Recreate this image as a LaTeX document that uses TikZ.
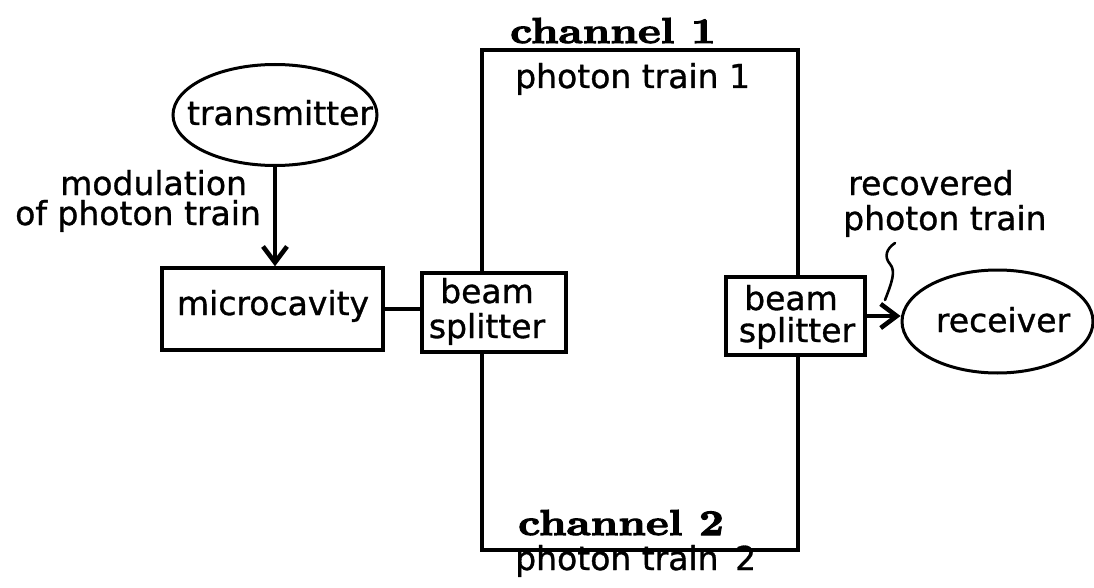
\documentclass[tikz,border=0pt]{standalone}
\usepackage{fontspec}
\newfontfamily\lett[FakeBold=1]{DejaVu Sans}
\newfontfamily\chfont[FakeStretch=1.2,FakeBold=3]{lmroman10-bold.otf}
\usetikzlibrary{shapes.geometric,arrows.meta}
\begin{document}
\begin{tikzpicture}[x=1pt,y=-1pt,
  lbl/.style={font=\lett\fontsize{33}{38}\selectfont, inner sep=0pt},
  chanlbl/.style={font=\chfont\fontsize{36}{40}\selectfont, inner sep=0pt},
  blk/.style={draw, line width=3.4pt, fill=white, inner sep=0pt},
  oval/.style={draw, ellipse, line width=3pt, inner sep=0pt},
  sig/.style={line width=3.6pt, -{Straight Barb[length=16pt,width=24pt,line width=4.6pt]}},
  wire/.style={line width=3.6pt},
  thinwire/.style={line width=2.6pt, line cap=round}]
\useasboundingbox (0,0) rectangle (1094,588);

% the two-channel frame
\node[draw, line width=3.4pt, minimum width=316pt, minimum height=500pt, inner sep=0pt] (chan) at (640,300) {};

% blocks
\node[blk, minimum width=221pt, minimum height=82pt] (mc) at (272.5,309) {};
\node[blk, minimum width=144pt, minimum height=79pt] (bs1) at (494,312.5) {};
\node[blk, minimum width=139pt, minimum height=78pt] (bs2) at (795.5,316) {};
\node[oval, minimum width=204pt, minimum height=101pt] (tx) at (275,115) {};
\node[oval, minimum width=191pt, minimum height=103pt] (rx) at (997.5,321.5) {};

% block texts
\node[lbl, anchor=base] (txt) at (280,125) {transmitter};
\node[lbl, anchor=base] (mct) at (273,315) {microcavity};
\node[lbl, anchor=base] (bs1a) at (487,303) {beam};
\node[lbl, anchor=base] (bs1b) at (487,338) {splitter};
\node[lbl, anchor=base] (bs2a) at (791,310) {beam};
\node[lbl, anchor=base] (bs2b) at (797,342) {splitter};
\node[lbl, anchor=base] (rxt) at (1003,332) {receiver};

% free labels
\node[lbl, anchor=base west] (mod1) at (60,195) {modulation};
\node[lbl, anchor=base west] (mod2) at (15,225) {of photon train};
\node[lbl, anchor=base west] (rec1) at (848,195) {recovered};
\node[lbl, anchor=base west] (rec2) at (843,230) {photon train};
\node[lbl, anchor=base west] (pt1) at (515,88) {photon train 1};
\node[lbl, anchor=base west] (pt2) at (515,570) {photon train\hspace{6pt} 2};
\node[chanlbl, anchor=base] (ch1) at (613,43) {channel 1};
\node[chanlbl, anchor=base] (ch2) at (621,535) {channel 2};

% connectors
\draw[sig] (tx.south) -- (tx.south |- mc.north);
\draw[wire] (mc.east) -- (mc.east -| bs1.west);
\draw[sig] (bs2.east) -- (bs2.east -| rx.west);

% pointer from the label to the recovered beam
\coordinate (w1) at (895,243);
\coordinate (w2) at (885,300);
\draw[thinwire] (w1) .. controls (886,249) and (884,257) .. (890,264)
  .. controls (896,271) and (892,282) .. (w2);
\end{tikzpicture}
\end{document}
